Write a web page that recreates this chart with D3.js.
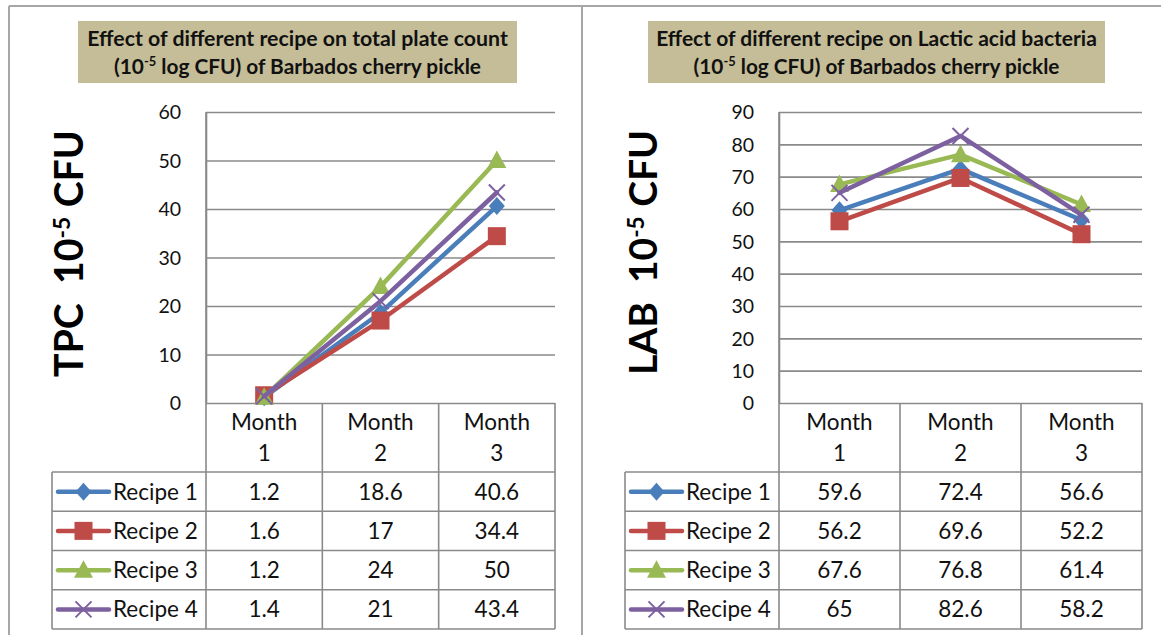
<!DOCTYPE html>
<html><head><meta charset="utf-8">
<script src="https://cdn.jsdelivr.net/npm/d3@7"></script>
<style>
body{margin:0;background:#fff;}
svg{display:block;font-family:Lato,"DejaVu Sans",sans-serif;}
</style>
</head><body>
<svg id="chart" width="1161" height="635"></svg>
<script>
// ---------- data ----------
const categories = ["Month 1", "Month 2", "Month 3"];
const recipes = ["Recipe 1", "Recipe 2", "Recipe 3", "Recipe 4"];

const tpcRecipe1 = [1.2, 18.6, 40.6];
const tpcRecipe2 = [1.6, 17, 34.4];
const tpcRecipe3 = [1.2, 24, 50];
const tpcRecipe4 = [1.4, 21, 43.4];

const labRecipe1 = [59.6, 72.4, 56.6];
const labRecipe2 = [56.2, 69.6, 52.2];
const labRecipe3 = [67.6, 76.8, 61.4];
const labRecipe4 = [65, 82.6, 58.2];

const tpcTicks = [0, 10, 20, 30, 40, 50, 60];
const labTicks = [0, 10, 20, 30, 40, 50, 60, 70, 80, 90];

// ---------- styling ----------
const colors = ["#4A7EBB", "#BE4B48", "#98B954", "#7D60A0"];
const markerTypes = ["diamond", "square", "triangle", "x"];
const gridColor = "#8a8a8a";
const frameColor = "#a6a6a6";

const svg = d3.select("#chart");

// outer frame
svg.append("line").attr("x1", 9).attr("x2", 1161).attr("y1", 6).attr("y2", 6)
  .attr("stroke", frameColor).attr("stroke-width", 2);
svg.append("line").attr("x1", 9).attr("x2", 9).attr("y1", 6).attr("y2", 635)
  .attr("stroke", frameColor).attr("stroke-width", 2);
svg.append("line").attr("x1", 582).attr("x2", 582).attr("y1", 6).attr("y2", 635)
  .attr("stroke", frameColor).attr("stroke-width", 2);

function fitWidth(textSel, target) {
  const w = textSel.node().getComputedTextLength();
  const fs = parseFloat(textSel.attr("font-size"));
  textSel.attr("font-size", fs * target / w);
}

function marker(g, type, x, y, color) {
  if (type === "diamond") {
    g.append("path").attr("d", "M0,-9L8,0L0,9L-8,0Z")
      .attr("transform", `translate(${x},${y})`).attr("fill", color);
  } else if (type === "square") {
    g.append("rect").attr("x", x - 9).attr("y", y - 9).attr("width", 18).attr("height", 18)
      .attr("fill", color);
  } else if (type === "triangle") {
    g.append("path").attr("d", "M0,-10L9.5,7.5L-9.5,7.5Z")
      .attr("transform", `translate(${x},${y})`).attr("fill", color);
  } else {
    g.append("path").attr("d", "M-8,-8L8,8M-8,8L8,-8")
      .attr("transform", `translate(${x},${y})`).attr("stroke", color)
      .attr("stroke-width", 2).attr("fill", "none");
  }
}

function drawPanel(cfg) {
  const g = svg.append("g");
  const plotTop = 112, plotBottom = 403;
  const headerBottom = 472, rowH = 39.25;

  // title box
  g.append("rect").attr("x", cfg.boxX).attr("y", 21).attr("width", cfg.boxW).attr("height", 62)
    .attr("fill", "#C4BD97");
  const cx = cfg.boxX + cfg.boxW / 2;
  const t1 = g.append("text").attr("x", cx).attr("y", 45.5).attr("text-anchor", "middle")
    .attr("font-weight", "bold").attr("font-size", 17).attr("fill", "#111").text(cfg.title1);
  fitWidth(t1, cfg.title1W);
  const t2 = g.append("text").attr("x", cx).attr("y", 74).attr("text-anchor", "middle")
    .attr("font-weight", "bold").attr("font-size", 17).attr("fill", "#111");
  t2.append("tspan").text("(10");
  t2.append("tspan").attr("baseline-shift", "super").attr("font-size", "62%").text("-5");
  t2.append("tspan").text(" log CFU) of Barbados cherry pickle");
  fitWidth(t2, cfg.title2W);

  // y axis title
  const yt = g.append("text").attr("transform", `translate(${cfg.yTitleX},${cfg.yTitleY}) rotate(-90)`)
    .attr("text-anchor", "middle").attr("font-weight", "bold").attr("font-size", 37)
    .attr("fill", "#000").attr("xml:space", "preserve");
  yt.append("tspan").text(cfg.yTitle + "\u00a0\u00a010");
  yt.append("tspan").attr("baseline-shift", "super").attr("font-size", "58%").text("-5");
  yt.append("tspan").text("\u00a0CFU");
  fitWidth(yt, cfg.yTitleW);

  // scales
  const x = d3.scaleBand().domain(categories).range([cfg.plotLeft, cfg.plotRight]);
  const y = d3.scaleLinear().domain([0, d3.max(cfg.ticks)]).range([plotBottom, plotTop]);

  // y axis + gridlines
  const axis = g.append("g").attr("transform", `translate(${cfg.plotLeft},0)`)
    .call(d3.axisLeft(y).tickValues(cfg.ticks).tickSize(-(cfg.plotRight - cfg.plotLeft))
      .tickSizeOuter(0).tickPadding(25).tickFormat(d3.format("d")));
  axis.select(".domain").attr("stroke", gridColor).attr("stroke-width", 1.6);
  axis.selectAll(".tick line").attr("stroke", gridColor).attr("stroke-width", 1.6);
  axis.selectAll(".tick text").attr("font-family", "Lato, sans-serif").attr("font-size", 19.5)
    .attr("fill", "#111").attr("dy", "0.35em");

  // data table lines
  const tableBottom = headerBottom + rowH * recipes.length;
  const lineAttr = s => s.attr("stroke", gridColor).attr("stroke-width", 1.6);
  // vertical lines at category boundaries
  const bounds = categories.map(c => x(c)).concat([cfg.plotRight]);
  bounds.forEach(bx => {
    lineAttr(g.append("line").attr("x1", bx).attr("x2", bx).attr("y1", bx === cfg.plotLeft ? plotTop : plotBottom).attr("y2", tableBottom));
  });
  lineAttr(g.append("line").attr("x1", cfg.tableLeft).attr("x2", cfg.tableLeft).attr("y1", headerBottom).attr("y2", tableBottom));
  for (let i = 0; i <= recipes.length; i++) {
    const yy = headerBottom + rowH * i;
    lineAttr(g.append("line").attr("x1", cfg.tableLeft).attr("x2", cfg.plotRight).attr("y1", yy).attr("y2", yy));
  }

  // category header labels
  categories.forEach(c => {
    const parts = c.split(" ");
    const cxx = x(c) + x.bandwidth() / 2;
    g.append("text").attr("x", cxx).attr("y", 430).attr("text-anchor", "middle")
      .attr("font-size", 22.5).attr("fill", "#111").text(parts[0]);
    g.append("text").attr("x", cxx).attr("y", 461).attr("text-anchor", "middle")
      .attr("font-size", 22.5).attr("fill", "#111").text(parts[1]);
  });

  // table rows
  cfg.series.forEach((vals, i) => {
    const rowMid = headerBottom + rowH * i + rowH / 2;
    const lg = g.append("g");
    lg.append("line").attr("x1", cfg.tableLeft + 6).attr("x2", cfg.tableLeft + 57)
      .attr("y1", rowMid).attr("y2", rowMid).attr("stroke", colors[i])
      .attr("stroke-width", 4.5).attr("stroke-linecap", "round");
    marker(lg, markerTypes[i], cfg.tableLeft + 31.5, rowMid, colors[i]);
    g.append("text").attr("x", cfg.tableLeft + 61).attr("y", rowMid + 8)
      .attr("font-size", 22.5).attr("fill", "#111").text(recipes[i]);
    vals.forEach((v, j) => {
      g.append("text").attr("x", x(categories[j]) + x.bandwidth() / 2).attr("y", rowMid + 8)
        .attr("text-anchor", "middle").attr("font-size", 22.5).attr("fill", "#111").text(String(v));
    });
  });

  // series lines + markers
  const line = d3.line().x((d, j) => x(categories[j]) + x.bandwidth() / 2).y(d => y(d));
  cfg.series.forEach((vals, i) => {
    const sg = g.append("g");
    sg.append("path").attr("d", line(vals)).attr("fill", "none").attr("stroke", colors[i])
      .attr("stroke-width", 4.5).attr("stroke-linejoin", "round").attr("stroke-linecap", "round");
    vals.forEach((v, j) => marker(sg, markerTypes[i], x(categories[j]) + x.bandwidth() / 2, y(v), colors[i]));
  });
}

drawPanel({
  boxX: 78, boxW: 439,
  title1: "Effect of different recipe on total plate count", title1W: 421, title2W: 367,
  yTitle: "TPC", yTitleX: 83, yTitleY: 253.5, yTitleW: 247,
  plotLeft: 206, plotRight: 555, tableLeft: 52,
  ticks: tpcTicks,
  series: [tpcRecipe1, tpcRecipe2, tpcRecipe3, tpcRecipe4]
});

drawPanel({
  boxX: 648, boxW: 457,
  title1: "Effect of different recipe on Lactic acid bacteria", title1W: 441, title2W: 366,
  yTitle: "LAB", yTitleX: 657, yTitleY: 252.5, yTitleW: 245,
  plotLeft: 779, plotRight: 1142, tableLeft: 625,
  ticks: labTicks,
  series: [labRecipe1, labRecipe2, labRecipe3, labRecipe4]
});
</script>
</body></html>
